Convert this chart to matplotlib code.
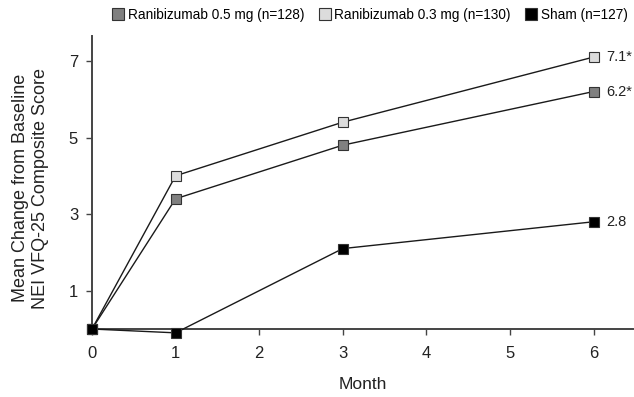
import matplotlib
matplotlib.use('Agg')
import matplotlib.pyplot as plt
from matplotlib.lines import Line2D

plt.rcParams['font.family'] = ['Liberation Sans', 'DejaVu Sans']

months = [0, 1, 3, 6]
rbz_05 = [0.0, 3.4, 4.8, 6.2]
rbz_03 = [0.0, 4.0, 5.4, 7.1]
sham = [0.0, -0.1, 2.1, 2.8]
end_labels = ['6.2*', '7.1*', '2.8']
series_names = ['Ranibizumab 0.5 mg (n=128)', 'Ranibizumab 0.3 mg (n=130)', 'Sham (n=127)']
colors = ['#808080', '#dcdcdc', '#000000']
x_ticks = [0, 1, 2, 3, 4, 5, 6]
y_ticks = [1, 3, 5, 7]

fig = plt.figure(figsize=(6.34, 3.97), dpi=100)
ax = fig.add_axes([0.1451, 0.1423, 0.853, 0.767])

for vals, col, lab in zip([rbz_05, rbz_03, sham], colors, end_labels):
    ax.plot(months, vals, color='#1a1a1a', lw=1.0, marker='s', markersize=7.5,
            markerfacecolor=col, markeredgecolor='#333333', markeredgewidth=0.8,
            clip_on=False, zorder=3)
    ax.text(months[-1] + 0.15, vals[-1], lab, fontsize=10.5, va='center',
            ha='left', color='#222222')

ax.set_xlim(0, 6.47)
ax.set_ylim(-0.3, 7.65)
ax.spines['top'].set_visible(False)
ax.spines['right'].set_visible(False)
ax.spines['bottom'].set_position(('data', 0))
ax.spines['left'].set_bounds(0, 7.65)
for s in ['left', 'bottom']:
    ax.spines[s].set_color('#444444')
    ax.spines[s].set_linewidth(1.4)

ax.set_xticks(x_ticks)
ax.set_yticks(y_ticks)
ax.tick_params(axis='both', direction='out', length=4, width=1,
               color='#444444', labelsize=12, labelcolor='#222222')
ax.tick_params(axis='x', pad=8)
ax.tick_params(axis='y', pad=6)
ax.set_xlabel('Month', fontsize=12.5, color='#222222', labelpad=12)
ax.set_ylabel('Mean Change from Baseline\nNEI VFQ-25 Composite Score',
              fontsize=13, color='#222222', labelpad=14, linespacing=1.25)

handles = [Line2D([], [], ls='none', marker='s', markersize=9,
                  markerfacecolor=c, markeredgecolor='#333333', markeredgewidth=0.8)
           for c in colors]
fig.legend(handles, series_names, loc='center', bbox_to_anchor=(0.583, 0.962),
           ncol=3, frameon=False, fontsize=9.8, handletextpad=0.2,
           columnspacing=1.0, handlelength=1.0)

fig.savefig('out.png', dpi=100)
